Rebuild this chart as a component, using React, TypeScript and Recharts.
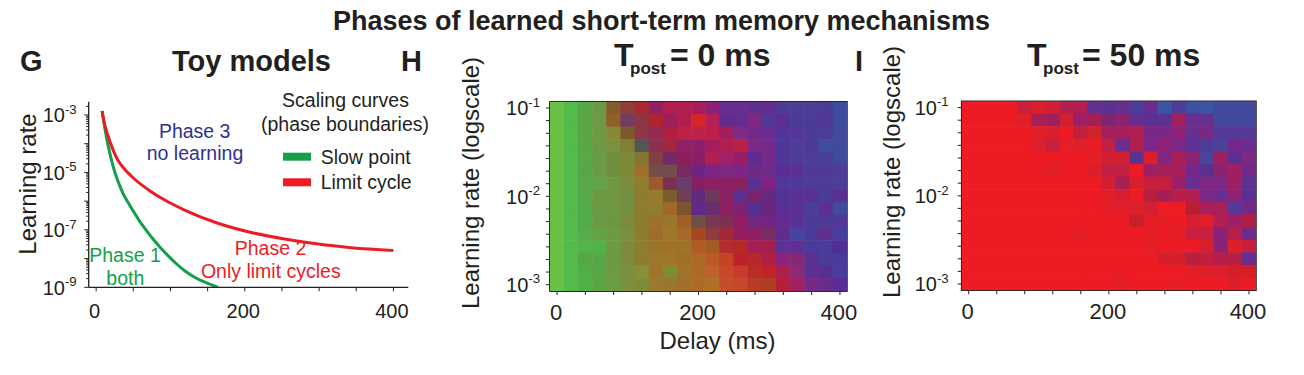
import React from 'react';
import { LineChart, Line, XAxis, YAxis, ScatterChart, Scatter, ReferenceArea } from 'recharts';

const FONT = '"Liberation Sans", Arial, Helvetica, sans-serif';
const INK = '#231f20';
const GREEN = '#13a04a';
const RED = '#ed1c24';
const BLUE = '#2e3192';

// ---------- Panel G: toy-model scaling curves ----------
const SLOW_DELAY = [8, 10, 13, 16, 20, 25, 30, 36, 43, 50, 58, 67, 76, 86, 96, 108, 120, 133, 148, 164];
const SLOW_RATE = [1.38e-3, 6.3e-4, 2.24e-4, 8.9e-5, 3.16e-5, 1.05e-5, 4.5e-6, 1.9e-6, 8.9e-7, 4.5e-7, 2.1e-7, 1.0e-7, 5.0e-8, 2.5e-8, 1.32e-8, 6.6e-9, 3.6e-9, 2.2e-9, 1.45e-9, 1.0e-9];
const LIMIT_DELAY = [8, 11.2, 15.7, 20.2, 24.6, 29.1, 38.1, 51.6, 74, 96.5, 118.9, 163.8, 208.7, 253.6, 298.5, 343.4, 400];
const LIMIT_RATE = [1.38e-3, 5.1e-4, 2.0e-4, 9.1e-5, 4.7e-5, 2.7e-5, 1.32e-5, 5.9e-6, 2.14e-6, 9.5e-7, 4.9e-7, 1.7e-7, 8.1e-8, 4.8e-8, 3.2e-8, 2.4e-8, 1.9e-8];
const G_X_TICKS = [0, 50, 100, 150, 200, 250, 300, 350, 400];
const G_X_LABELS = [0, 200, 400];
const G_Y_DECADES = [-9, -8, -7, -6, -5, -4, -3];
const G_Y_LABEL_EXP = [-9, -7, -5, -3];
const G_Y_DOMAIN = [1e-9, 2.9e-3];

// ---------- Panels H, I: heatmaps ----------
const DELAYS = [0, 20, 40, 60, 80, 100, 120, 140, 160, 180, 200, 220, 240, 260, 280, 300, 320, 340, 360, 380, 400];
const DELAY_TICKS = [0, 40, 80, 120, 160, 200, 240, 280, 320, 360, 400];
const DELAY_LABELS = [0, 200, 400];
const LEARNING_RATES = [0.001, 0.00139, 0.00193, 0.00268, 0.00373, 0.00518, 0.0072, 0.01, 0.0139, 0.0193, 0.0268, 0.0373, 0.0518, 0.072, 0.1];
const RATE_LABELS = [0.001, 0.01, 0.1];

// rows listed from top (learning rate 1e-1) to bottom (1e-3); colour = phase mixture
const H_ROWS = [
  '6abf45 52bb4a 59a646 6a9a45 845a30 8e3f3a a82a2e 8f2168 b21f4f b01f4f a51f5a 8a2378 6a2d90 682f92 60308f 662b8f 4e3b95 4c3d96 4a3e96 4d3c96 3e4c9d',
  '6abf45 52bb4a 59a646 6e9a45 906026 733d60 8d3542 b0232f 9e1f5e b01e4f d4262a b41f55 652c90 652d92 7e2883 4e3898 5b2e90 4a3b96 4c3c97 533894 3f4b9c',
  '6abf45 53bb48 5aa546 6f9945 868a35 7c5a2e 8b3a45 922a52 b11e3e bf2045 be2248 bc2049 a41e5d 7e2a88 74288a 6a2d92 533597 553598 4b3d96 4c3e98 424a9c',
  '6abf45 53bb48 59a646 6b9a45 7e9040 827f35 555555 8e304d a0283f 921f69 8e1f6a a61d5f b21f4e bb2045 7e2887 752a8a 503698 4d3e98 4e3998 404c9c 3f4c9d',
  '6abf45 52bc4a 57a848 679b45 728f40 7d8a38 837631 843e48 762868 8a1f5b 8c1e67 b11f4f a3206a 961f66 5f2c91 762a88 513698 4e3d98 4c3e98 4b3e98 3f4c9d',
  '6abf45 53bb4a 57a648 6a9a45 738e40 7f8a38 a0702a 734e4b 764c4e 7b2a60 6b2582 7a2582 7f287f 802485 6e2a88 702a8a 5a2f95 5a3095 4f3a98 4f3a98 4e3c99',
  '6abf45 53bb4a 56a84a 62a44a 6f9a43 7b8c3c 917d30 9e5a2a 7a3052 663d6c 851f60 8e1f64 8e1f63 8c1f5e 5a3093 832181 513798 503898 4e3b98 4c3c98 4c3e99',
  '6abf45 53bb4a 53ab4a 6f9642 709642 758e40 8f7c2f 987a2e 7c5e2c 6e4058 64287e 6e3a5a 8a2262 5c2f90 7a2470 66297f 503596 5b2f94 593094 4b3c98 5a2e92',
  '6abf45 53bb4a 52ab4a 6c9942 6e9842 72903f 8f7c2f 8f7e30 a1682a 7e542c 5f2a88 672f6f 8d1f63 7e2275 552f92 6a267c 5a2f95 5a3095 4b3e99 5b2f94 3f4c9d',
  '6abf45 53bb4a 52ab4a 6a9a45 6e9642 7c8c3a 8d7d30 9e702a 9b772c a1602a 6e5048 7a3752 7e3050 921e62 72287c 722582 662b8c 563196 4c3c98 4e3b98 53389a',
  '6abf45 53bb4a 56ab4a 62a346 6c9a43 7a9040 8d7d30 a06c2a a0782c a7682a a34822 8d3d41 a2283a 921e62 8e1f64 772e63 5e2d8e 47449d 4b3a98 602e8c 473f99',
  '6abf45 53bb4a 52b449 52b24a 6f9a43 7c8c3a 8e7e30 9c722a a27228 9f732a b25a25 a15c22 b72a2e b32a26 a31f55 a51f4c 5f3097 5e3095 4b3a99 4c3c9a 4f2f91',
  '6abf45 53bb4a 59a647 59a647 6c9a43 7d8c3a 8d7d30 9c7a2c 9e762c a17028 ad6a27 bc5a26 c24424 bd2129 b7282d b01f44 8c247b 852876 5c2f95 4c3b99 4a3b98',
  '6abf45 53bb4a 4fb04a 59a648 6f9a43 78903f 869135 a0722a 7f8c35 a27228 ad6a27 c0602a c7482a c73c2a ba2c2a bf2429 ae1f4c 8c2a76 5f2e93 582e93 4a3e99',
  '6abf45 53bb4a 4fb04a 5da544 6a9c43 7a9040 7c8c3a 9b7a2c 98762c a07028 ab6c27 b07028 c34e2a c5482a bb3a28 ae3e22 b51f3c a31f62 752a87 6a2c8c 582e96',
];

const I_ROWS = [
  'ed1c24 ed1c24 ed1c24 ed1c24 c81f3a dc1f2c d21f34 b51f4c b21f4f 62308f 5a3292 66308f 4c3d98 6a2d90 3a55a3 4c3e98 3d51a0 3a55a4 42499c 42499c 434a9b',
  'ed1c24 ed1c24 ed1c24 ed1c24 e01f27 a81f58 a01f5f d21f32 9e1f66 a51f55 7e2670 8c2272 662d90 5a3193 5e3092 a21f60 6a2d90 66308f 42489b 42489b 42489b',
  'ed1c24 ed1c24 ed1c24 ed1c24 ed1c24 e01f27 dc1f2c ed1c24 c21f3f d02429 a31f5d a31f5d ae1f52 7a2886 7a2886 8e2277 66308f 7a2885 553a98 553a98 553a98',
  'ed1c24 ed1c24 ed1c24 ed1c24 ed1c24 dc1f2c c81f3c e41f26 e01f28 ed1c24 c21f45 6a2d90 ae1f52 7e2788 8e2277 7a2885 5e3092 4d3d98 4a429b 76288a 6a2d90',
  'ed1c24 ed1c24 ed1c24 ed1c24 ed1c24 ed1c24 ed1c24 ed1c24 ed1c24 e41f26 d21f32 d21f32 5e3092 dc1f2a 7e2785 a81f58 8c2272 4a449b 9e1f62 5a3193 7e2785',
  'ed1c24 ed1c24 ed1c24 ed1c24 ed1c24 ed1c24 e21f26 ed1c24 ed1c24 dc1f2c c21f45 c21f45 ed1c24 9e1f66 a51f58 a51f58 76288a 5a3193 8c2272 9e1f66 76288a',
  'ed1c24 ed1c24 ed1c24 ed1c24 ed1c24 ed1c24 ed1c24 ed1c24 ed1c24 ed1c24 d21f32 a81f55 d81f2e c81f3c c81f3c 9e1f66 6a2d90 7e2785 7e2785 9e1f62 5e3092',
  'ed1c24 ed1c24 ed1c24 ed1c24 ed1c24 ed1c24 ed1c24 ed1c24 ed1c24 ed1c24 e21f28 d61f30 ed1c24 b81f3c a51f55 b81f48 b21f50 7e2785 6a2d90 8e2277 5a3193',
  'ed1c24 ed1c24 ed1c24 ed1c24 ed1c24 ed1c24 ed1c24 ed1c24 ed1c24 ed1c24 e21f28 e21f28 de1f2a d21f32 ed1c24 ed1c24 b81f32 a81f5a a81f5a 553a98 762888',
  'ed1c24 ed1c24 ed1c24 ed1c24 ed1c24 ed1c24 ed1c24 ed1c24 ed1c24 ed1c24 ed1c24 ed1c24 c81f2a e61f26 e61f26 ed1c24 d81f32 e01f28 b21f50 9e1f66 b21f45',
  'ed1c24 ed1c24 ed1c24 ed1c24 ed1c24 ed1c24 ed1c24 ed1c24 e21f26 ed1c24 ed1c24 ed1c24 ed1c24 e61f26 ed1c24 e41f26 c81f40 c81f40 8c2277 b81f4a 6e2a8c',
  'ed1c24 ed1c24 ed1c24 ed1c24 ed1c24 ed1c24 ed1c24 ed1c24 ed1c24 ed1c24 ed1c24 ed1c24 ed1c24 e41f26 ed1c24 ed1c24 ed1c24 d81f2e 8c2277 dc1f2c c81f3c',
  'ed1c24 ed1c24 ed1c24 ed1c24 ed1c24 ed1c24 ed1c24 ed1c24 ed1c24 ed1c24 ed1c24 ed1c24 ed1c24 ed1c24 d61f2b d61f2b b81f40 c21f3a b21f4c b81f40 6a2d90',
  'ed1c24 ed1c24 ed1c24 ed1c24 ed1c24 ed1c24 ed1c24 ed1c24 ed1c24 ed1c24 ed1c24 ed1c24 ed1c24 ed1c24 ed1c24 ed1c24 e21f26 dc1f2a dc1f2a d41f29 d41f29',
  'ed1c24 ed1c24 ed1c24 ed1c24 ed1c24 ed1c24 ed1c24 ed1c24 ed1c24 ed1c24 ed1c24 e21f26 ed1c24 ed1c24 ed1c24 e61f26 ed1c24 ed1c24 ed1c24 dc1f2a ed1c24',
];

// ---------- helpers ----------
const slowData = SLOW_DELAY.map((x, i) => ({ x, y: SLOW_RATE[i] }));
const limitData = LIMIT_DELAY.map((x, i) => ({ x, y: LIMIT_RATE[i] }));

const gMinor: number[] = [];
G_Y_DECADES.forEach((e) => {
  gMinor.push(Math.pow(10, e));
  for (let m = 2; m <= 9; m++) {
    const v = m * Math.pow(10, e);
    if (v <= G_Y_DOMAIN[1]) gMinor.push(v);
  }
});
const G_Y_TICKS = gMinor.sort((a, b) => a - b);

const buildCells = (rows: string[]) => {
  const out: { delay: number; rate: number; color: string }[] = [];
  rows.forEach((row, r) => {
    const rate = LEARNING_RATES[LEARNING_RATES.length - 1 - r];
    row.trim().split(/\s+/).forEach((hex, c) => {
      out.push({ delay: DELAYS[c], rate, color: '#' + hex });
    });
  });
  return out;
};
const H_CELLS = buildCells(H_ROWS);
const I_CELLS = buildCells(I_ROWS);

const RATE_STEP = Math.sqrt(LEARNING_RATES[1] / LEARNING_RATES[0]);
const RATE_DOMAIN = [LEARNING_RATES[0] / RATE_STEP, LEARNING_RATES[LEARNING_RATES.length - 1] * RATE_STEP];
const DELAY_STEP = DELAYS[1] - DELAYS[0];
const DELAY_DOMAIN = [DELAYS[0] - DELAY_STEP / 2, DELAYS[DELAYS.length - 1] + DELAY_STEP / 2];

const Pow10 = ({ x, y, exp, size, anchorGap }: any) => (
  <text x={x - anchorGap} y={y + size * 0.36} textAnchor="end" fontSize={size} fill={INK} fontFamily={FONT}>
    10
    <tspan fontSize={size * 0.66} dy={-size * 0.42}>{exp}</tspan>
  </text>
);

const GYTick = (props: any) => {
  const { x, y, payload } = props;
  const v = payload.value as number;
  const e = Math.log10(v);
  const exp = Math.round(e);
  const isMajor = Math.abs(e - exp) < 1e-6;
  const labeled = isMajor && G_Y_LABEL_EXP.includes(exp);
  return (
    <g>
      <line x1={x} x2={x - (isMajor ? 4.5 : 2.5)} y1={y} y2={y} stroke={INK} strokeWidth={1} />
      {labeled && <Pow10 x={x} y={y} exp={String(exp)} size={20} anchorGap={12} />}
    </g>
  );
};

const GXTick = (props: any) => {
  const { x, y, payload } = props;
  return (
    <g>
      <line x1={x} x2={x} y1={y} y2={y + 4} stroke={INK} strokeWidth={1} />
      {G_X_LABELS.includes(payload.value) && (
        <text x={x - 1.5} y={y + 31} textAnchor="middle" fontSize={20} fill={INK} fontFamily={FONT}>
          {payload.value}
        </text>
      )}
    </g>
  );
};

const makeHYTick = (gap: number) => (props: any) => {
  const { x, y, payload } = props;
  const v = payload.value as number;
  const labeled = RATE_LABELS.some((r) => Math.abs(r - v) < 1e-9);
  return (
    <g>
      <line x1={x} x2={x - 4} y1={y} y2={y} stroke={INK} strokeWidth={1} />
      {labeled && <Pow10 x={x} y={y} exp={String(Math.round(Math.log10(v)))} size={20} anchorGap={gap} />}
    </g>
  );
};

const HXTick = (props: any) => {
  const { x, y, payload } = props;
  return (
    <g>
      <line x1={x} x2={x} y1={y} y2={y + 4} stroke={INK} strokeWidth={1} />
      {DELAY_LABELS.includes(payload.value) && (
        <text x={x - 1} y={y + 29} textAnchor="middle" fontSize={22} fill={INK} fontFamily={FONT}>
          {payload.value}
        </text>
      )}
    </g>
  );
};

const makeCellShape = (w: number, h: number) => (props: any) => {
  const { cx, cy, payload } = props;
  if (cx == null || cy == null) return <g />;
  return <rect x={cx - w / 2 - 0.3} y={cy - h / 2 - 0.3} width={w + 0.6} height={h + 0.6} fill={payload.color} />;
};

const Heatmap = ({ cells, left, width, height, margin, yGap }: any) => {
  const plotW = width - margin.left - 60 - margin.right;
  const plotH = height - margin.top - margin.bottom - 40;
  const cw = plotW / DELAYS.length;
  const ch = plotH / LEARNING_RATES.length;
  return (
    <div style={{ position: 'absolute', left, top: 0, width, height }}>
      <ScatterChart width={width} height={height} margin={margin}>
        <XAxis
          type="number"
          dataKey="delay"
          domain={DELAY_DOMAIN}
          ticks={DELAY_TICKS}
          interval={0}
          allowDataOverflow
          height={40}
          tickSize={0}
          tickMargin={0}
          tick={<HXTick />}
          axisLine={{ stroke: INK, strokeWidth: 1.5 }}
        />
        <YAxis
          type="number"
          dataKey="rate"
          scale="log"
          domain={RATE_DOMAIN}
          ticks={LEARNING_RATES}
          interval={0}
          allowDataOverflow
          width={60}
          tickSize={0}
          tickMargin={0}
          tick={makeHYTick(yGap)}
          axisLine={{ stroke: INK, strokeWidth: 1.5 }}
        />
        <Scatter data={cells} isAnimationActive={false} shape={makeCellShape(cw, ch)} />
        <ReferenceArea
          x1={DELAY_DOMAIN[0]}
          x2={DELAY_DOMAIN[1]}
          y1={RATE_DOMAIN[0]}
          y2={RATE_DOMAIN[1]}
          fill="none"
          fillOpacity={0}
          stroke={INK}
          strokeWidth={1.5}
          ifOverflow="visible"
        />
      </ScatterChart>
    </div>
  );
};

const txt = { fontFamily: FONT, fill: INK } as const;

export default function App() {
  return (
    <div
      style={{
        position: 'absolute',
        left: 0,
        top: 0,
        width: 1304,
        height: 375,
        background: '#fff',
        overflow: 'hidden',
        fontFamily: FONT,
      }}
    >
      {/* Panel G */}
      <div style={{ position: 'absolute', left: 0, top: 0, width: 430, height: 375 }}>
        <LineChart width={430} height={375} margin={{ top: 101.7, right: 21.7, bottom: 47.7, left: 28.7 }}>
          <XAxis
            type="number"
            dataKey="x"
            domain={[-10, 420]}
            ticks={G_X_TICKS}
            interval={0}
            allowDataOverflow
            height={40}
            tickSize={0}
            tickMargin={0}
            tick={<GXTick />}
            axisLine={{ stroke: INK, strokeWidth: 1.3 }}
          />
          <YAxis
            type="number"
            dataKey="y"
            scale="log"
            domain={G_Y_DOMAIN}
            ticks={G_Y_TICKS}
            interval={0}
            allowDataOverflow
            width={60}
            tickSize={0}
            tickMargin={0}
            tick={<GYTick />}
            axisLine={{ stroke: INK, strokeWidth: 1.3 }}
          />
          <Line data={slowData} dataKey="y" type="monotone" stroke={GREEN} strokeWidth={3} dot={false} isAnimationActive={false} />
          <Line data={limitData} dataKey="y" type="monotone" stroke={RED} strokeWidth={3} dot={false} isAnimationActive={false} />
        </LineChart>
      </div>

      {/* Panel H */}
      <Heatmap cells={H_CELLS} left={450} width={420} height={375} margin={{ top: 101.7, right: 23, bottom: 44, left: 40 }} yGap={10} />
      {/* Panel I */}
      <Heatmap cells={I_CELLS} left={860} width={420} height={375} margin={{ top: 101.3, right: 24, bottom: 44.7, left: 41.7 }} yGap={13} />

      {/* Text overlay */}
      <svg width={1304} height={375} style={{ position: 'absolute', left: 0, top: 0, pointerEvents: 'none' }}>
        <text x={661.5} y={30} textAnchor="middle" fontSize={27} fontWeight="bold" {...txt}>
          Phases of learned short-term memory mechanisms
        </text>

        <text x={20} y={70.7} fontSize={29} fontWeight="bold" {...txt}>G</text>
        <text x={172} y={70.7} fontSize={29} fontWeight="bold" {...txt}>Toy models</text>
        <text x={401} y={70.7} fontSize={29} fontWeight="bold" {...txt}>H</text>
        <text x={855} y={70.7} fontSize={29} fontWeight="bold" {...txt}>I</text>

        <text y={66} fontWeight="bold" {...txt}>
          <tspan x={614} fontSize={32}>T</tspan>
          <tspan x={630} y={73.5} fontSize={17}>post</tspan>
          <tspan x={670} y={66} fontSize={32}>= 0 ms</tspan>
        </text>
        <text y={66} fontWeight="bold" {...txt}>
          <tspan x={1027} fontSize={32}>T</tspan>
          <tspan x={1043} y={73.5} fontSize={17}>post</tspan>
          <tspan x={1082} y={66} fontSize={32}>= 50 ms</tspan>
        </text>

        {/* axis titles */}
        <text transform="translate(35.5,184) rotate(-90)" textAnchor="middle" fontSize={24} {...txt}>Learning rate</text>
        <text transform="translate(478.7,183) rotate(-90)" textAnchor="middle" fontSize={24} {...txt}>Learning rate (logscale)</text>
        <text transform="translate(900,172) rotate(-90)" textAnchor="middle" fontSize={24} {...txt}>Learning rate (logscale)</text>
        <text x={717.5} y={348.5} textAnchor="middle" fontSize={24} {...txt}>Delay (ms)</text>

        {/* legend of G */}
        <text x={345.5} y={106.7} textAnchor="middle" fontSize={19.5} {...txt}>Scaling curves</text>
        <text x={345} y={130.5} textAnchor="middle" fontSize={19.5} {...txt}>(phase boundaries)</text>
        <rect x={283} y={152.7} width={28} height={8} fill={GREEN} />
        <text x={320.7} y={163.5} fontSize={19.5} {...txt}>Slow point</text>
        <rect x={283} y={178.3} width={28} height={8} fill={RED} />
        <text x={320.7} y={189} fontSize={19.5} {...txt}>Limit cycle</text>

        {/* phase annotations */}
        <text x={194.7} y={138.3} textAnchor="middle" fontSize={19.5} fontFamily={FONT} fill={BLUE}>Phase 3</text>
        <text x={195} y={160} textAnchor="middle" fontSize={19.5} fontFamily={FONT} fill={BLUE}>no learning</text>
        <text x={125} y={261.7} textAnchor="middle" fontSize={19.5} fontFamily={FONT} fill={GREEN}>Phase 1</text>
        <text x={125.3} y={285} textAnchor="middle" fontSize={19.5} fontFamily={FONT} fill={GREEN}>both</text>
        <text x={270.5} y={255} textAnchor="middle" fontSize={19.5} fontFamily={FONT} fill={RED}>Phase 2</text>
        <text x={270.8} y={278.3} textAnchor="middle" fontSize={19.5} fontFamily={FONT} fill={RED}>Only limit cycles</text>
      </svg>
    </div>
  );
}
